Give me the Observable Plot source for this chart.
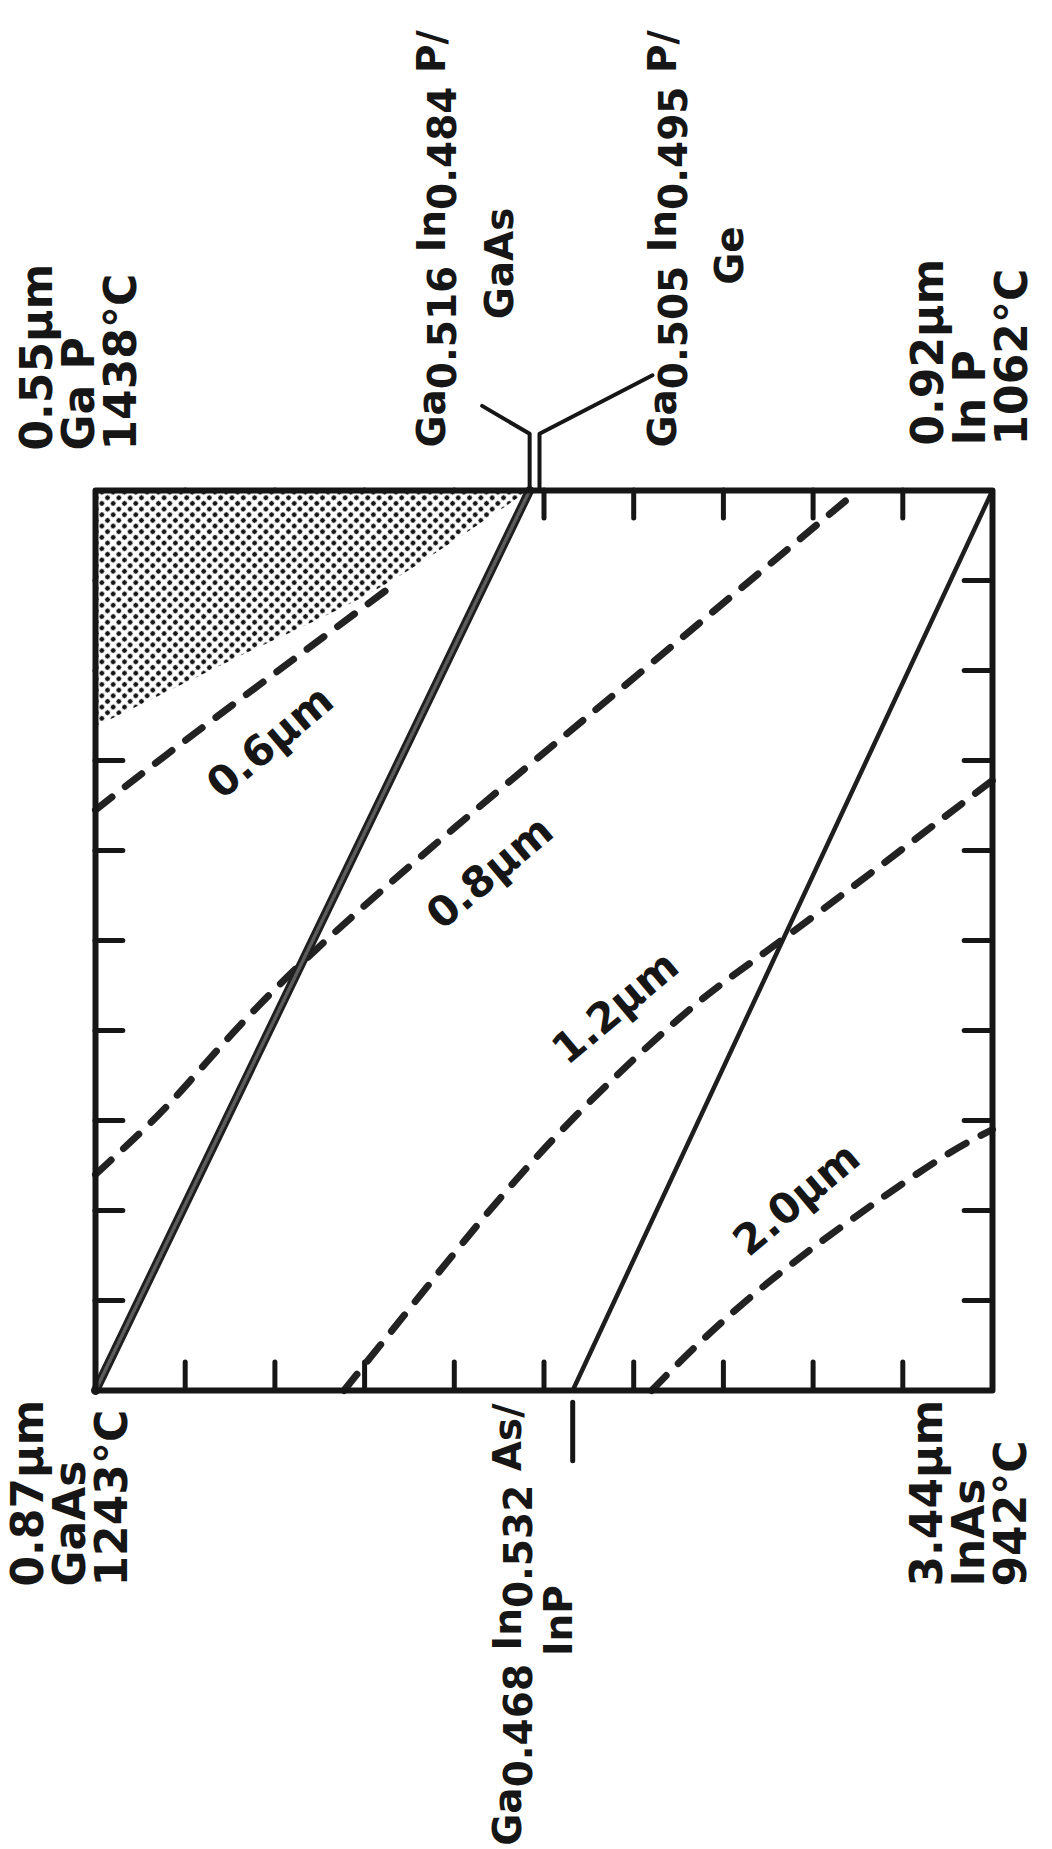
<!DOCTYPE html>
<html>
<head>
<meta charset="utf-8">
<script src="https://cdn.jsdelivr.net/npm/d3@7"></script>
<script src="https://cdn.jsdelivr.net/npm/@observablehq/plot@0.6"></script>
<style>
  html, body { margin: 0; padding: 0; background: #fff; }
</style>
</head>
<body>
<div id="chart"></div>
<script>
// Ga(x)In(1-x)As(y)P(1-y) composition square.
// u = In share of the group-III sites (GaP/GaAs at left, InP/InAs at right)
// v = P share of the group-V sites (arsenides at bottom, phosphides at top)

const tickFractions = [0.1, 0.2, 0.3, 0.4, 0.5, 0.6, 0.7, 0.8, 0.9];

// lattice-matched compositions (solid lines)
const matchGaAs = [{u: 0, v: 0}, {u: 0.484, v: 1}];
const matchInP = [{u: 0.532, v: 0}, {u: 1, v: 1}];

// direct / indirect gap boundary (stippled region above it)
const indirectEdge = [
  {u: 0, v: 0.737}, {u: 0.15, v: 0.81}, {u: 0.332, v: 0.9}, {u: 0.41, v: 0.95}, {u: 0.484, v: 1}
];

// iso-wavelength contours (dashed)
const contour06 = [{u: 0, v: 0.645}, {u: 0.08, v: 0.707}, {u: 0.2, v: 0.797}, {u: 0.332, v: 0.895}];
const contour08 = [{u: 0, v: 0.24}, {u: 0.069, v: 0.305}, {u: 0.124, v: 0.365}, {u: 0.23, v: 0.475},
                   {u: 0.4, v: 0.625}, {u: 0.55, v: 0.75}, {u: 0.7, v: 0.875}, {u: 0.85, v: 1}];
const contour12 = [{u: 0.277, v: 0}, {u: 0.38, v: 0.128}, {u: 0.51, v: 0.279}, {u: 0.656, v: 0.418},
                   {u: 0.767, v: 0.502}, {u: 1, v: 0.678}];
const contour20 = [{u: 0.62, v: 0}, {u: 0.665, v: 0.045}, {u: 0.727, v: 0.101}, {u: 0.795, v: 0.155},
                   {u: 0.864, v: 0.205}, {u: 0.944, v: 0.259}, {u: 1, v: 0.29}];

const contourLabels = [
  {u: 0.195, v: 0.72, text: "0.6µm"},
  {u: 0.44, v: 0.575, text: "0.8µm"},
  {u: 0.58, v: 0.425, text: "1.2µm"},
  {u: 0.782, v: 0.212, text: "2.0µm"}
];

// binary corners: band-gap wavelength, compound, melting point
const cornerGaP = [{u: 0, v: 1, text: "0.55µm\nGa P\n1438°C"}];
const cornerInP = [{u: 1, v: 1, text: "0.92µm\nIn P\n1062°C"}];
const cornerGaAs = [{u: 0, v: 0, text: "0.87µm\nGaAs\n1243°C"}];
const cornerInAs = [{u: 1, v: 0, text: "3.44µm\nInAs\n942°C"}];

// ternary end points of the lattice-matched lines ({…} = subscript)
const ternaryGaAs = [{u: 0.484, v: 1, text: "Ga{0.516} In{0.484} P/", substrate: "GaAs"}];
const ternaryGe = [{u: 0.495, v: 1, text: "Ga{0.505} In{0.495} P/", substrate: "Ge"}];
const ternaryInP = [{u: 0.532, v: 0, text: "Ga{0.468} In{0.532} As/", substrate: "InP"}];

// leader lines from the ternary labels to the frame
const leaderGaAs = [{u: 0.484, v: 1}, {u: 0.484, v: 1.063}, {u: 0.431, v: 1.094}];
const leaderGe = [{u: 0.495, v: 1}, {u: 0.495, v: 1.063}, {u: 0.621, v: 1.128}];
const leaderInP = [{u: 0.532, v: -0.013}, {u: 0.532, v: -0.078}];

const TICK = 0.031;
const ink = "#161616";
const big = {fontSize: 44, fontWeight: "bold", fill: ink};
const mid = {fontSize: 39, fontWeight: "bold", fill: ink};
const block = {x: "u", y: "v", text: "text", rotate: -90, textAnchor: "start", lineAnchor: "middle", lineHeight: 0.95, ...big};
const upright = {x: "u", y: "v", rotate: -90, lineAnchor: "middle", ...mid};

const dashed = {x: "u", y: "v", curve: "natural", stroke: "#222", strokeWidth: 7,
                strokeDasharray: "21,17", strokeLinecap: "round"};
const tickStyle = {stroke: ink, strokeWidth: 5, strokeLinecap: "round"};

const chart = Plot.plot({
  width: 1052,
  height: 1849,
  marginLeft: 95,
  marginRight: 60,
  marginTop: 490,
  marginBottom: 459,
  x: {domain: [0, 1], axis: null},
  y: {domain: [0, 1], axis: null},
  style: {fontFamily: "'DejaVu Sans', Verdana, sans-serif", background: "#fff", color: ink},
  marks: [
    // tick marks pointing into the square
    Plot.ruleX(tickFractions, {x: d => d, y1: () => 1, y2: () => 1 - TICK, ...tickStyle}),
    Plot.ruleX(tickFractions, {x: d => d, y1: () => 0, y2: () => TICK, ...tickStyle}),
    Plot.ruleY(tickFractions, {y: d => d, x1: () => 0, x2: () => TICK, ...tickStyle}),
    Plot.ruleY(tickFractions, {y: d => d, x1: () => 1, x2: () => 1 - TICK, ...tickStyle}),

    // indirect-gap region
    Plot.areaY(indirectEdge, {x: "u", y1: "v", y2: () => 1, curve: "monotone-x", fill: "url(#stipple)"}),

    // iso-wavelength contours
    Plot.line(contour06, dashed),
    Plot.line(contour08, dashed),
    Plot.line(contour12, dashed),
    Plot.line(contour20, dashed),

    // lattice-matched lines
    Plot.line(matchGaAs, {x: "u", y: "v", stroke: "#1e1e1e", strokeWidth: 9, strokeLinecap: "round"}),
    Plot.line(matchGaAs, {x: "u", y: "v", stroke: "#5c5c5c", strokeWidth: 3.5, strokeDasharray: "2,2"}),
    Plot.line(matchInP, {x: "u", y: "v", stroke: "#1e1e1e", strokeWidth: 4.5, strokeLinecap: "round"}),

    Plot.frame({stroke: ink, strokeWidth: 6, strokeLinejoin: "round"}),

    // leaders
    Plot.line(leaderGaAs, {x: "u", y: "v", stroke: ink, strokeWidth: 4, strokeLinecap: "round", strokeLinejoin: "round"}),
    Plot.line(leaderGe, {x: "u", y: "v", stroke: ink, strokeWidth: 4, strokeLinecap: "round", strokeLinejoin: "round"}),
    Plot.line(leaderInP, {x: "u", y: "v", stroke: ink, strokeWidth: 5, strokeLinecap: "round"}),

    // contour labels
    Plot.text(contourLabels, {x: "u", y: "v", text: "text", rotate: -40, fontSize: 42, fontWeight: "bold", fill: ink}),

    // corner labels
    Plot.text(cornerGaP, {...block, dx: -15, dy: -40}),
    Plot.text(cornerInP, {...block, dx: -21, dy: -45}),
    Plot.text(cornerGaAs, {...block, dx: -24, dy: 196}),
    Plot.text(cornerInAs, {...block, dx: -22, dy: 196}),

    // ternary labels
    Plot.text(ternaryGaAs, {...upright, text: "text", textAnchor: "start", dx: -97, dy: -43}),
    Plot.text(ternaryGaAs, {...upright, text: "substrate", textAnchor: "middle", dx: -29, dy: -227}),
    Plot.text(ternaryGe, {...upright, text: "text", textAnchor: "start", dx: 124, dy: -43}),
    Plot.text(ternaryGe, {...upright, text: "substrate", textAnchor: "middle", dx: 191, dy: -235}),
    Plot.text(ternaryInP, {...upright, text: "text", textAnchor: "end", dx: -64, dy: 13}),
    Plot.text(ternaryInP, {...upright, text: "substrate", textAnchor: "middle", dx: -13, dy: 230})
  ]
});

// stipple pattern for the indirect-gap region
const ns = "http://www.w3.org/2000/svg";
const defs = document.createElementNS(ns, "defs");
defs.innerHTML =
  '<pattern id="stipple" width="8" height="8" patternUnits="userSpaceOnUse" patternTransform="rotate(45)">' +
  '<rect width="8" height="8" fill="#fff"/>' +
  '<circle cx="4" cy="4" r="2.45" fill="#161616"/></pattern>';
chart.insertBefore(defs, chart.firstChild);

// turn {…} runs into lowered (subscript) tspans
chart.querySelectorAll("text").forEach(t => {
  if (t.querySelector("tspan") || !t.textContent.includes("{")) return;
  const parts = t.textContent.split(/(\{[^}]*\})/).filter(p => p.length);
  t.textContent = "";
  let lowered = false;
  for (const p of parts) {
    const ts = document.createElementNS(ns, "tspan");
    if (p.startsWith("{")) {
      ts.textContent = p.slice(1, -1);
      ts.setAttribute("dy", "0.28em");
      lowered = true;
    } else {
      ts.textContent = p;
      if (lowered) { ts.setAttribute("dy", "-0.28em"); lowered = false; }
    }
    t.appendChild(ts);
  }
});

document.getElementById("chart").appendChild(chart);
</script>
</body>
</html>
